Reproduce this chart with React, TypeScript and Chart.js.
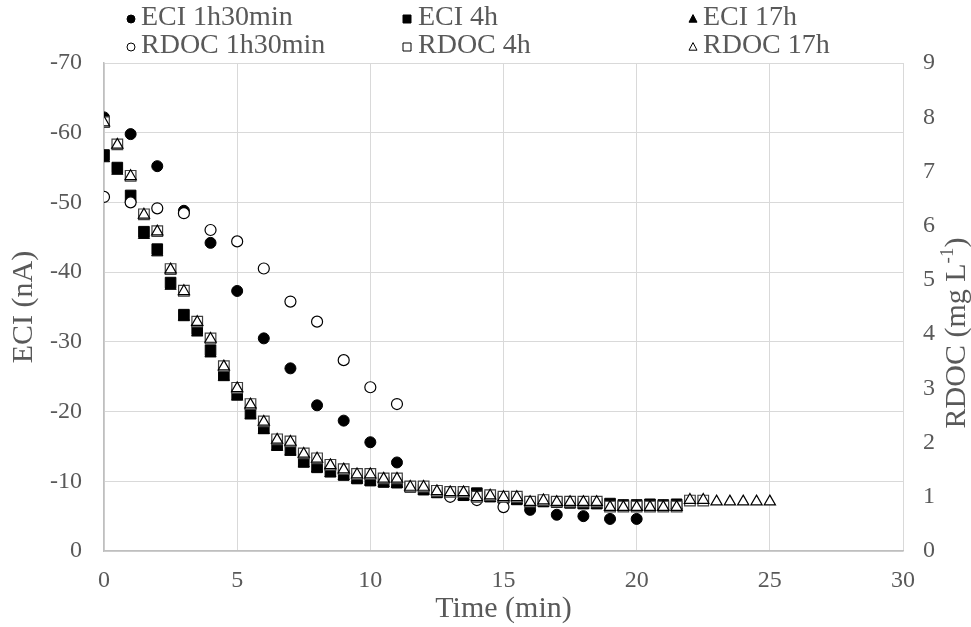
import React, { useEffect, useRef } from 'react';
import { Chart, registerables } from 'chart.js';

Chart.register(...registerables);

const FONT = "'Liberation Serif', 'Times New Roman', serif";
const GRAY = '#595959';

// ECI 1h30min (nA) and RDOC 1h30min (mg/L)
const timeEci1h30 = [0, 1, 2, 3, 4, 5, 6, 7, 8, 9, 10, 11, 16, 17, 18, 19, 20];
const eci1h30 = [-62.2, -59.8, -55.2, -48.8, -44.2, -37.3, -30.5, -26.2, -20.9, -18.7, -15.6, -12.7, -5.9, -5.2, -5.0, -4.6, -4.6];
const timeRdoc1h30 = [0, 1, 2, 3, 4, 5, 6, 7, 8, 9, 10, 11, 13, 14, 15];
const rdoc1h30 = [6.53, 6.43, 6.32, 6.23, 5.92, 5.71, 5.21, 4.6, 4.23, 3.52, 3.02, 2.71, 1.0, 0.94, 0.81];

// ECI 4h / 17h
const timeEci = [0, 0.5, 1, 1.5, 2, 2.5, 3, 3.5, 4, 4.5, 5, 5.5, 6, 6.5, 7, 7.5, 8, 8.5, 9, 9.5, 10, 10.5, 11, 11.5, 12, 12.5, 13, 13.5, 14, 14.5, 15, 15.5, 16, 16.5, 17, 17.5, 18, 18.5, 19, 19.5, 20, 20.5, 21, 21.5];
const eci4h = [-56.8, -55.0, -51.0, -45.8, -43.3, -38.5, -33.9, -31.8, -28.8, -25.3, -22.5, -19.8, -17.6, -15.2, -14.5, -12.8, -12.0, -11.4, -10.9, -10.4, -10.1, -9.9, -9.8, -9.2, -8.8, -8.4, -8.3, -8.0, -8.3, -7.8, -7.6, -7.4, -7.0, -7.1, -7.0, -6.9, -6.8, -6.8, -6.8, -6.6, -6.6, -6.7, -6.6, -6.7];
const eci17h = [-56.3, -54.5, -50.5, -45.3, -42.8, -38.0, -33.5, -31.3, -28.3, -24.9, -22.1, -19.4, -17.3, -14.9, -14.2, -12.5, -11.8, -11.1, -10.7, -10.2, -9.9, -9.7, -9.6, -9.0, -8.6, -8.2, -8.1, -7.8, -7.9, -7.6, -7.4, -7.2, -6.9, -6.9, -6.8, -6.7, -6.6, -6.6, -6.5, -6.4, -6.4, -6.4, -6.4, -6.5];

// RDOC 4h / 17h
const timeRdoc4h = [0, 0.5, 1, 1.5, 2, 2.5, 3, 3.5, 4, 4.5, 5, 5.5, 6, 6.5, 7, 7.5, 8, 8.5, 9, 9.5, 10, 10.5, 11, 11.5, 12, 12.5, 13, 13.5, 14, 14.5, 15, 15.5, 16, 16.5, 17, 17.5, 18, 18.5, 19, 19.5, 20, 20.5, 21, 21.5, 22, 22.5];
const rdoc4h = [7.91, 7.5, 6.92, 6.21, 5.9, 5.2, 4.8, 4.23, 3.92, 3.41, 3.01, 2.71, 2.39, 2.06, 2.02, 1.8, 1.71, 1.59, 1.51, 1.42, 1.42, 1.34, 1.34, 1.19, 1.19, 1.11, 1.09, 1.09, 1.0, 1.03, 1.0, 1.0, 0.91, 0.94, 0.91, 0.91, 0.91, 0.91, 0.82, 0.82, 0.82, 0.82, 0.82, 0.82, 0.93, 0.93];
const timeRdoc17h = [0, 0.5, 1, 1.5, 2, 2.5, 3, 3.5, 4, 4.5, 5, 5.5, 6, 6.5, 7, 7.5, 8, 8.5, 9, 9.5, 10, 10.5, 11, 11.5, 12, 12.5, 13, 13.5, 14, 14.5, 15, 15.5, 16, 16.5, 17, 17.5, 18, 18.5, 19, 19.5, 20, 20.5, 21, 21.5, 22, 22.5, 23, 23.5, 24, 24.5, 25];
const rdoc17h = [7.9, 7.49, 6.91, 6.2, 5.89, 5.19, 4.79, 4.22, 3.91, 3.4, 3.0, 2.7, 2.38, 2.05, 2.01, 1.79, 1.7, 1.58, 1.5, 1.41, 1.41, 1.33, 1.33, 1.18, 1.18, 1.1, 1.08, 1.08, 0.99, 1.02, 0.99, 0.99, 0.9, 0.93, 0.9, 0.9, 0.9, 0.9, 0.81, 0.81, 0.81, 0.81, 0.81, 0.81, 0.94, 0.94, 0.91, 0.91, 0.91, 0.91, 0.91];

const legendRows = [
  ['ECI 1h30min', 'ECI 4h', 'ECI 17h'],
  ['RDOC 1h30min', 'RDOC 4h', 'RDOC 17h'],
];
const xTitle = 'Time (min)';
const yTitle = 'ECI (nA)';

const pts = (xs: number[], ys: number[]) => xs.map((x, i) => ({ x, y: ys[i] }));

function drawMarker(ctx: CanvasRenderingContext2D, style: string, x: number, y: number, r: number, filled: boolean) {
  ctx.save();
  ctx.beginPath();
  if (style === 'circle') {
    ctx.arc(x, y, r, 0, Math.PI * 2);
  } else if (style === 'rect') {
    ctx.rect(x - r, y - r, 2 * r, 2 * r);
  } else {
    ctx.moveTo(x, y - r * 1.1);
    ctx.lineTo(x + r, y + r * 0.8);
    ctx.lineTo(x - r, y + r * 0.8);
    ctx.closePath();
  }
  ctx.fillStyle = filled ? '#000' : '#fff';
  ctx.fill();
  ctx.lineWidth = 1;
  ctx.strokeStyle = '#000';
  ctx.stroke();
  ctx.restore();
}

const overlayPlugin = {
  id: 'overlay',
  afterDraw(chart: any) {
    const ctx: CanvasRenderingContext2D = chart.ctx;
    const colsMarker = [131, 407, 693];
    const colsText = [141, 418, 703];
    const rowsY = [18, 46];
    const styles = ['circle', 'rect', 'triangle'];
    ctx.save();
    ctx.font = `28px ${FONT}`;
    ctx.textBaseline = 'middle';
    ctx.textAlign = 'left';
    ctx.fillStyle = GRAY;
    legendRows.forEach((row, ri) => {
      row.forEach((label, ci) => {
        drawMarker(ctx, styles[ci], colsMarker[ci], rowsY[ri] + 1, 4, ri === 0);
        ctx.fillStyle = GRAY;
        ctx.fillText(label, colsText[ci], rowsY[ri]);
      });
    });
    // right axis title, rotated bottom-to-top
    ctx.translate(957, 333);
    ctx.rotate(-Math.PI / 2);
    const main = 'RDOC (mg L';
    const sup = '-1';
    const tail = ')';
    ctx.font = `30px ${FONT}`;
    const w1 = ctx.measureText(main).width;
    const w3 = ctx.measureText(tail).width;
    ctx.font = `19px ${FONT}`;
    const w2 = ctx.measureText(sup).width;
    const total = w1 + w2 + w3;
    let x0 = -total / 2;
    ctx.fillStyle = GRAY;
    ctx.font = `30px ${FONT}`;
    ctx.fillText(main, x0, 0);
    x0 += w1;
    ctx.font = `19px ${FONT}`;
    ctx.fillText(sup, x0, -9);
    x0 += w2;
    ctx.font = `30px ${FONT}`;
    ctx.fillText(tail, x0, 0);
    ctx.restore();
  },
};

export default function App() {
  const ref = useRef<HTMLCanvasElement>(null);
  useEffect(() => {
    document.body.style.margin = '0';
    const canvas = ref.current!;
    const open = { backgroundColor: '#ffffff', borderColor: '#000000', borderWidth: 1.2 };
    const filled = { backgroundColor: '#000000', borderColor: '#000000', borderWidth: 1 };
    const chart = new Chart(canvas, {
      type: 'scatter',
      data: {
        datasets: [
          { label: 'RDOC 17h', data: pts(timeRdoc17h, rdoc17h), yAxisID: 'y2', pointStyle: 'triangle', pointRadius: 6.5, order: 1, ...open },
          { label: 'RDOC 4h', data: pts(timeRdoc4h, rdoc4h), yAxisID: 'y2', pointStyle: 'rect', pointRadius: 7.5, order: 2, ...open, borderColor: '#404040' },
          { label: 'RDOC 1h30min', data: pts(timeRdoc1h30, rdoc1h30), yAxisID: 'y2', pointStyle: 'circle', pointRadius: 5.5, order: 3, ...open },
          { label: 'ECI 17h', data: pts(timeEci, eci17h), yAxisID: 'y', pointStyle: 'triangle', pointRadius: 6.5, order: 4, ...filled },
          { label: 'ECI 4h', data: pts(timeEci, eci4h), yAxisID: 'y', pointStyle: 'rect', pointRadius: 7.5, order: 5, ...filled },
          { label: 'ECI 1h30min', data: pts(timeEci1h30, eci1h30), yAxisID: 'y', pointStyle: 'circle', pointRadius: 5.5, order: 6, ...filled },
        ] as any,
      },
      options: {
        responsive: false,
        animation: false,
        layout: { padding: { top: 63, left: 0, right: 0, bottom: 0 } },
        plugins: { legend: { display: false }, tooltip: { enabled: false } },
        scales: {
          x: {
            type: 'linear',
            min: 0,
            max: 30,
            ticks: { stepSize: 5, color: GRAY, font: { family: FONT, size: 24 }, padding: 15 },
            grid: { color: '#d9d9d9', lineWidth: 1, drawTicks: false },
            border: { color: '#bfbfbf', width: 1.5 },
            title: { display: true, text: xTitle, color: GRAY, font: { family: FONT, size: 30 }, padding: { top: 0, bottom: 0 } },
            afterFit: (s: any) => { s.height = 76; },
          },
          y: {
            position: 'left',
            min: -70,
            max: 0,
            reverse: true,
            ticks: { stepSize: 10, color: GRAY, font: { family: FONT, size: 24 }, padding: 22 },
            grid: { color: '#d9d9d9', lineWidth: 1, drawTicks: false },
            border: { color: '#bfbfbf', width: 1.5 },
            title: { display: true, text: yTitle, color: GRAY, font: { family: FONT, size: 30 }, padding: { top: 6, bottom: 0 } },
            afterFit: (s: any) => { s.width = 104; },
          },
          y2: {
            position: 'right',
            min: 0,
            max: 9,
            ticks: { stepSize: 1, color: GRAY, font: { family: FONT, size: 24 }, padding: 20 },
            grid: { display: false, drawTicks: false },
            border: { display: false },
            afterFit: (s: any) => { s.width = 68; },
          },
        },
      } as any,
      plugins: [overlayPlugin],
    });
    return () => chart.destroy();
  }, []);
  return <canvas ref={ref} width={971} height={627} style={{ display: 'block' }} />;
}
